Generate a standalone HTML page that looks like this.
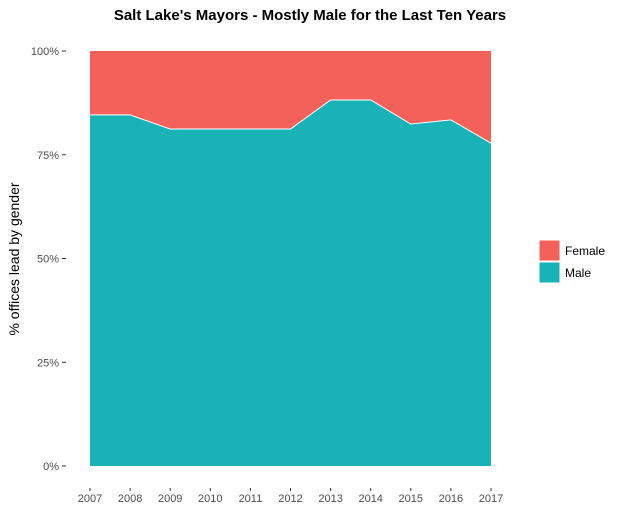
<!DOCTYPE html>
<html><head><meta charset="utf-8"><style>
body{margin:0;background:#fff;font-family:"Liberation Sans",Arial,sans-serif}
</style></head><body>
<svg id="c" width="618" height="527" xmlns="http://www.w3.org/2000/svg">
<text x="310" y="20" text-anchor="middle" font-size="15" font-weight="bold" fill="#000">Salt Lake's Mayors - Mostly Male for the Last Ten Years</text>
<text transform="translate(19,259) rotate(-90)" text-anchor="middle" font-size="14" fill="#000">% offices lead by gender</text>
<g id="plot"></g>
<g>
<rect x="539" y="240" width="21" height="21" fill="#F4615B" stroke="#fff"/>
<text x="565" y="255" font-size="12" fill="#000">Female</text>
<rect x="539" y="262" width="21" height="21" fill="#19B3B7" stroke="#fff"/>
<text x="565" y="277" font-size="12" fill="#000">Male</text>
</g>
</svg>
<script>
const years=[2007,2008,2009,2010,2011,2012,2013,2014,2015,2016,2017];
const male=[84.6,84.6,81.2,81.2,81.2,81.2,88.2,88.2,82.4,83.4,77.8];
const yTicks=[0,25,50,75,100];
const yTickLabels=["0%","25%","50%","75%","100%"];
const NS="http://www.w3.org/2000/svg";
const x0=90,x1=491,yb=466,yt=51;
const xs=v=>x0+(v-years[0])/(years[years.length-1]-years[0])*(x1-x0);
const ys=v=>yb-v/100*(yb-yt);
const g=document.getElementById('plot');
function mk(t,a){const e=document.createElementNS(NS,t);for(const k in a)e.setAttribute(k,a[k]);g.appendChild(e);return e;}
let femalePath=`M${xs(years[0])},${ys(100)} L${xs(years[years.length-1])},${ys(100)}`;
for(let i=years.length-1;i>=0;i--)femalePath+=` L${xs(years[i])},${ys(male[i])}`;
const f=mk('path',{d:femalePath+'Z',fill:'#F4615B'});


let malePath=`M${xs(years[0])},${ys(0)}`;
years.forEach((y,i)=>malePath+=` L${xs(y)},${ys(male[i])}`);
malePath+=` L${xs(years[years.length-1])},${ys(0)}Z`;
const m=mk('path',{d:malePath,fill:'#19B3B7'});


const ln=mk('polyline',{points:years.map((y,i)=>xs(y)+','+ys(male[i])).join(' '),fill:'none',stroke:'#fff','stroke-width':1});


yTicks.forEach((v,i)=>{
 const t=mk('line',{x1:62,x2:66,y1:ys(v),y2:ys(v),stroke:'#333'});
 
 
 const l=mk('text',{x:59,y:ys(v)+4,'text-anchor':'end','font-size':11,fill:'#4d4d4d'});
 l.textContent=yTickLabels[i];
 
 
});
years.forEach(y=>{
 const t=mk('line',{x1:xs(y),x2:xs(y),y1:488,y2:491,stroke:'#333'});
 
 
 const l=mk('text',{x:xs(y),y:502,'text-anchor':'middle','font-size':11,fill:'#4d4d4d'});
 l.textContent=y;
 
 
});
</script>
</body></html>
